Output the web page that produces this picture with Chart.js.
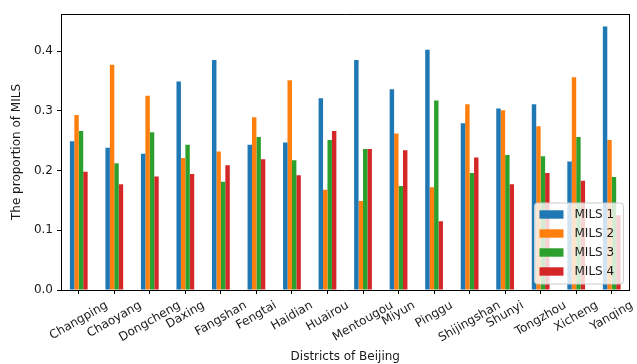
<!DOCTYPE html>
<html>
<head>
<meta charset="utf-8">
<script src="https://cdn.jsdelivr.net/npm/chart.js@4/dist/chart.umd.min.js"></script>
<style>
  html, body { margin: 0; padding: 0; background: #fff; }
  #wrap { width: 637px; height: 364px; }
</style>
</head>
<body>
<div id="wrap"><canvas id="c" width="637" height="364"></canvas></div>
<script>
// Districts of Beijing (x categories)
const districts = ['Changping', 'Chaoyang', 'Dongcheng', 'Daxing', 'Fangshan', 'Fengtai',
  'Haidian', 'Huairou', 'Mentougou', 'Miyun', 'Pinggu', 'Shijingshan', 'Shunyi',
  'Tongzhou', 'Xicheng', 'Yanqing'];

// Proportion of each MILS level per district
const mils1 = [0.249, 0.238, 0.228, 0.349, 0.385, 0.243, 0.247, 0.321, 0.385, 0.336, 0.402, 0.279, 0.304, 0.311, 0.215, 0.441];
const mils2 = [0.293, 0.377, 0.325, 0.221, 0.232, 0.289, 0.351, 0.168, 0.149, 0.262, 0.172, 0.311, 0.301, 0.274, 0.356, 0.251];
const mils3 = [0.266, 0.212, 0.264, 0.243, 0.181, 0.256, 0.217, 0.251, 0.236, 0.174, 0.317, 0.196, 0.226, 0.224, 0.256, 0.189];
const mils4 = [0.198, 0.177, 0.190, 0.194, 0.209, 0.219, 0.192, 0.266, 0.236, 0.234, 0.115, 0.222, 0.177, 0.196, 0.183, 0.125];

const seriesNames = ['MILS 1', 'MILS 2', 'MILS 3', 'MILS 4'];
const yTickValues = [0.0, 0.1, 0.2, 0.3, 0.4];

const colors = ['#1f77b4', '#ff7f0e', '#2ca02c', '#d62728'];
const FONT = '"DejaVu Sans", "Liberation Sans", sans-serif';
const INK = '#1a1a1a';

Chart.defaults.font.family = FONT;
Chart.defaults.font.size = 12;
Chart.defaults.color = INK;

// Top/right frame, rotated category labels and an in-plot legend
const decorations = {
  id: 'decorations',
  afterDraw(chart) {
    const { ctx, chartArea: a, scales: { x } } = chart;
    ctx.save();

    // closing spines
    ctx.strokeStyle = '#000';
    ctx.lineWidth = 1;
    ctx.beginPath();
    ctx.moveTo(a.left, Math.round(a.top) + 0.5);
    ctx.lineTo(a.right, Math.round(a.top) + 0.5);
    ctx.moveTo(Math.round(a.right) - 0.5, a.top);
    ctx.lineTo(Math.round(a.right) - 0.5, a.bottom);
    ctx.stroke();

    // category labels rotated 30°, centred under each tick
    ctx.font = '12px ' + FONT;
    ctx.fillStyle = INK;
    ctx.textAlign = 'center';
    ctx.textBaseline = 'middle';
    const ang = Math.PI / 6;
    x.ticks.forEach((t, i) => {
      const label = districts[i];
      const px = x.getPixelForTick(i);
      const w = ctx.measureText(label).width;
      const h = 14;
      const boxH = w * Math.sin(ang) + h * Math.cos(ang);
      const cy = a.bottom + 8.4 + boxH / 2;
      ctx.save();
      ctx.translate(px, cy);
      ctx.rotate(-ang);
      ctx.fillText(label, 0, 0);
      ctx.restore();
    });

    // legend box (lower right)
    const bw = 89, bh = 81;
    const right = a.right - 6, bottom = a.bottom - 6;
    const left = right - bw, top = bottom - bh;
    const r = 3;
    ctx.beginPath();
    ctx.moveTo(left + r, top);
    ctx.lineTo(right - r, top);
    ctx.arcTo(right, top, right, top + r, r);
    ctx.lineTo(right, bottom - r);
    ctx.arcTo(right, bottom, right - r, bottom, r);
    ctx.lineTo(left + r, bottom);
    ctx.arcTo(left, bottom, left, bottom - r, r);
    ctx.lineTo(left, top + r);
    ctx.arcTo(left, top, left + r, top, r);
    ctx.closePath();
    ctx.fillStyle = 'rgba(255,255,255,0.8)';
    ctx.fill();
    ctx.strokeStyle = '#cccccc';
    ctx.lineWidth = 1;
    ctx.stroke();

    ctx.textAlign = 'left';
    chart.data.datasets.forEach((ds, i) => {
      const cyRow = top + 11.5 + i * 19;
      ctx.fillStyle = ds.backgroundColor;
      ctx.fillRect(left + 5, cyRow - 4.2, 24, 8.4);
      ctx.fillStyle = INK;
      ctx.fillText(ds.label, left + 40, cyRow + 0.5);
    });

    ctx.restore();
  }
};

const seriesValues = [mils1, mils2, mils3, mils4];

new Chart(document.getElementById('c'), {
  type: 'bar',
  data: {
    labels: districts,
    datasets: seriesValues.map((vals, i) => ({
      label: seriesNames[i],
      data: vals,
      backgroundColor: colors[i],
      borderWidth: 0,
      categoryPercentage: 0.5,
      barPercentage: 1.0
    }))
  },
  options: {
    responsive: false,
    devicePixelRatio: 1,
    animation: false,
    layout: { padding: { left: 0, right: 7.5, top: 14, bottom: 0 } },
    plugins: {
      legend: { display: false },
      tooltip: { enabled: false },
      title: { display: false }
    },
    scales: {
      x: {
        offset: true,
        grid: { display: true, drawOnChartArea: false, drawTicks: true, tickLength: 4, color: '#000', offset: false },
        border: { display: true, color: '#000', width: 1 },
        ticks: { display: false, autoSkip: false },
        title: { display: true, text: 'Districts of Beijing', color: INK, font: { size: 12 }, padding: { top: 0, bottom: 0 } },
        afterFit(scale) { scale.height = 74; }
      },
      y: {
        min: 0,
        max: 0.462,
        afterBuildTicks(scale) { scale.ticks = yTickValues.map(v => ({ value: v })); },
        grid: { display: true, drawOnChartArea: false, drawTicks: true, tickLength: 4, color: '#000' },
        border: { display: true, color: '#000', width: 1 },
        ticks: { padding: 4, color: INK, callback: v => Number(v).toFixed(1) },
        title: { display: true, text: 'The proportion of MILS', color: INK, font: { size: 12 }, padding: { top: 10, bottom: 0 } },
        afterFit(scale) { scale.width = 61; }
      }
    }
  },
  plugins: [decorations]
});
</script>
</body>
</html>
